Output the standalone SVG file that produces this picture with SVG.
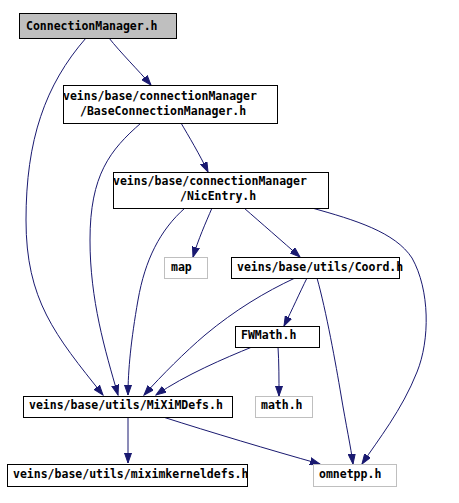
<svg xmlns="http://www.w3.org/2000/svg" width="459" height="503" viewBox="0 0 459 503">
<defs>
<style>
.n{fill:#fff;stroke:#000;stroke-width:1}
.g{fill:#fff;stroke:#bfbfbf;stroke-width:1}
.r{fill:#bfbfbf;stroke:#000;stroke-width:1}
text{font-family:"DejaVu Sans Mono","Liberation Mono",monospace;font-size:11.5px;font-weight:bold;fill:#000}
.e path{fill:none;stroke:#191970;stroke-width:1;marker-end:url(#a)}
</style>
<marker id="a" markerUnits="userSpaceOnUse" markerWidth="11" markerHeight="8" refX="10" refY="4" orient="auto">
<path d="M0,0.5 L10,4 L0,7.5 z" fill="#191970" stroke="#191970" stroke-width="1"/>
</marker>
</defs>
<rect width="459" height="503" fill="#fff"/>
<g class="e" id="edges">
<path d="M109,38 C120,52 138,70 151,85"/>
<path d="M86,38 C45,85 26,140 26,220 C26,300 55,335 103,395"/>
<path d="M181,123 C188,135 200,155 208,172"/>
<path d="M141,123 C110,150 90,175 90,240 C90,300 105,350 118,395"/>
<path d="M185,208 C160,230 145,260 138,300 C131,340 128,370 128,395"/>
<path d="M212,208 C206,222 198,240 193,257"/>
<path d="M244,208 C260,222 283,242 300,257"/>
<path d="M312,208 C355,220 395,232 412,258 C430,290 430,340 417,372 C402,410 378,440 362,464"/>
<path d="M307,278 C300,292 292,310 284,326"/>
<path d="M317,278 C326,310 336,365 341,395 C346,425 351,448 353,464"/>
<path d="M295,278 C265,292 235,310 205,335 C185,352 162,375 144,395"/>
<path d="M252,347 C225,358 185,375 156,395"/>
<path d="M278,347 C279,362 279,380 279,396"/>
<path d="M128,417 L128,463"/>
<path d="M163,417 C210,432 270,450 320,464"/>
</g>
<g id="n_ConnectionManager"><rect class="r" x="19.5" y="13.5" width="157" height="25"/><text x="26" y="30">ConnectionManager.h</text></g>
<g id="n_BaseConnectionManager"><rect class="n" x="63.5" y="85.5" width="214" height="38"/><text x="63" y="100">veins/base/connectionManager</text><text x="80" y="115">/BaseConnectionManager.h</text></g>
<g id="n_NicEntry"><rect class="n" x="113.5" y="172.5" width="215" height="36"/><text x="113" y="185">veins/base/connectionManager</text><text x="180" y="200">/NicEntry.h</text></g>
<g id="n_map"><rect class="g" x="164.5" y="257.5" width="43" height="21"/><text x="171" y="271">map</text></g>
<g id="n_Coord"><rect class="n" x="231.5" y="257.5" width="168" height="21"/><text x="237" y="271">veins/base/utils/Coord.h</text></g>
<g id="n_FWMath"><rect class="n" x="235.5" y="326.5" width="84" height="21"/><text x="241" y="339">FWMath.h</text></g>
<g id="n_MiXiMDefs"><rect class="n" x="23.5" y="396.5" width="209" height="21"/><text x="29" y="409">veins/base/utils/MiXiMDefs.h</text></g>
<g id="n_math"><rect class="g" x="255.5" y="396.5" width="57" height="21"/><text x="261" y="409">math.h</text></g>
<g id="n_miximkerneldefs"><rect class="n" x="7.5" y="464.5" width="240" height="22"/><text x="13" y="478">veins/base/utils/miximkerneldefs.h</text></g>
<g id="n_omnetpp"><rect class="g" x="313.5" y="464.5" width="83" height="22"/><text x="319" y="478">omnetpp.h</text></g>
</svg>
